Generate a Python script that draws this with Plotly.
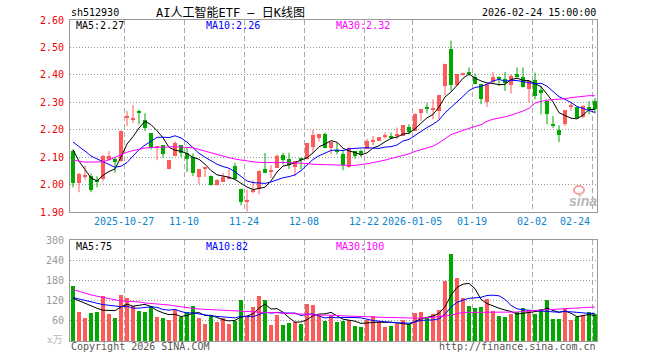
import pandas as pd
import plotly.graph_objects as go

W, H = 660, 360

# ---------------- data ----------------
opens = [2.122, 2.004, 2.030, 2.033, 2.015, 2.022, 2.089, 2.095, 2.085, 2.245,
         2.238, 2.266, 2.234, 2.187, 2.135, 2.143, 2.055, 2.104, 2.143, 2.116,
         2.101, 2.028, 2.055, 2.030, 2.000, 2.009, 2.021, 2.067, 1.985, 1.941,
         1.973, 1.985, 2.057, 2.048, 2.061, 2.107, 2.095, 2.063, 2.095, 2.094,
         2.138, 2.170, 2.183, 2.132, 2.124, 2.113, 2.063, 2.122, 2.124, 2.130,
         2.158, 2.159, 2.176, 2.174, 2.179, 2.177, 2.211, 2.195, 2.260, 2.281,
         2.276, 2.268, 2.360, 2.494, 2.363, 2.404, 2.406, 2.394, 2.366, 2.300,
         2.374, 2.394, 2.384, 2.363, 2.402, 2.393, 2.348, 2.380, 2.344, 2.305,
         2.217, 2.199, 2.220, 2.286, 2.283, 2.248, 2.281, 2.305]
highs = [2.126, 2.043, 2.070, 2.040, 2.030, 2.108, 2.122, 2.097, 2.197, 2.268,
         2.290, 2.274, 2.260, 2.187, 2.140, 2.143, 2.089, 2.158, 2.143, 2.134,
         2.113, 2.055, 2.063, 2.033, 2.019, 2.043, 2.055, 2.079, 1.985, 1.982,
         2.016, 2.052, 2.115, 2.070, 2.110, 2.116, 2.116, 2.085, 2.095, 2.152,
         2.200, 2.184, 2.189, 2.155, 2.152, 2.122, 2.138, 2.122, 2.128, 2.167,
         2.177, 2.174, 2.190, 2.190, 2.208, 2.216, 2.220, 2.260, 2.274, 2.297,
         2.311, 2.326, 2.441, 2.525, 2.402, 2.408, 2.427, 2.405, 2.366, 2.366,
         2.411, 2.394, 2.411, 2.402, 2.427, 2.427, 2.378, 2.408, 2.360, 2.305,
         2.250, 2.216, 2.271, 2.299, 2.283, 2.289, 2.304, 2.316]
lows = [1.990, 1.972, 2.018, 1.972, 1.990, 2.012, 2.089, 2.043, 2.083, 2.213,
        2.225, 2.220, 2.195, 2.128, 2.089, 2.098, 2.055, 2.104, 2.101, 2.046,
        2.031, 2.002, 2.028, 1.996, 1.996, 2.009, 2.021, 2.018, 1.924, 1.902,
        1.968, 1.965, 2.043, 2.024, 2.061, 2.073, 2.057, 2.030, 2.055, 2.091,
        2.116, 2.157, 2.132, 2.110, 2.110, 2.052, 2.061, 2.094, 2.101, 2.130,
        2.143, 2.159, 2.168, 2.165, 2.166, 2.177, 2.183, 2.195, 2.232, 2.260,
        2.238, 2.238, 2.326, 2.342, 2.359, 2.397, 2.397, 2.366, 2.293, 2.283,
        2.366, 2.360, 2.341, 2.332, 2.390, 2.354, 2.299, 2.311, 2.256, 2.220,
        2.207, 2.155, 2.214, 2.268, 2.241, 2.241, 2.256, 2.260]
closes = [2.004, 2.037, 2.035, 1.979, 2.012, 2.106, 2.106, 2.083, 2.195, 2.248,
          2.241, 2.264, 2.205, 2.134, 2.138, 2.113, 2.089, 2.152, 2.116, 2.095,
          2.043, 2.055, 2.063, 2.000, 2.016, 2.028, 2.028, 2.021, 1.935, 1.943,
          1.982, 2.048, 2.043, 2.050, 2.106, 2.091, 2.070, 2.085, 2.091, 2.152,
          2.179, 2.183, 2.132, 2.155, 2.122, 2.070, 2.134, 2.104, 2.110, 2.159,
          2.160, 2.174, 2.177, 2.173, 2.181, 2.216, 2.191, 2.256, 2.274, 2.280,
          2.277, 2.326, 2.441, 2.363, 2.402, 2.405, 2.405, 2.366, 2.311, 2.366,
          2.394, 2.384, 2.372, 2.396, 2.393, 2.356, 2.378, 2.323, 2.335, 2.256,
          2.216, 2.180, 2.271, 2.287, 2.244, 2.285, 2.280, 2.275]
volumes = [163, 86, 68, 83, 86, 134, 80, 68, 137, 128,
           104, 89, 86, 104, 71, 68, 62, 92, 71, 86,
           104, 68, 50, 74, 56, 68, 50, 59, 122, 71,
           101, 134, 122, 47, 77, 47, 53, 56, 50, 110,
           107, 77, 59, 73, 56, 59, 62, 44, 41, 62,
           74, 59, 41, 44, 50, 62, 50, 83, 86, 71,
           80, 92, 179, 257, 188, 128, 104, 98, 101, 125,
           89, 74, 71, 80, 86, 98, 92, 80, 95, 122,
           65, 65, 98, 62, 71, 77, 86, 80]
ma30 = [2.089, 2.085, 2.082, 2.082, 2.082, 2.083, 2.090, 2.100, 2.110, 2.118,
        2.124, 2.129, 2.133, 2.135, 2.136, 2.137, 2.137, 2.138, 2.137, 2.136,
        2.134, 2.128, 2.122, 2.116, 2.108, 2.103, 2.098, 2.093, 2.089, 2.086,
        2.083, 2.081, 2.080, 2.080, 2.080, 2.081, 2.080, 2.079, 2.079, 2.077,
        2.074, 2.073, 2.072, 2.072, 2.071, 2.071, 2.070, 2.070, 2.072, 2.076,
        2.080, 2.084, 2.089, 2.095, 2.100, 2.105, 2.112, 2.121, 2.127, 2.133,
        2.140, 2.152, 2.168, 2.182, 2.190, 2.198, 2.205, 2.212, 2.218, 2.231,
        2.238, 2.242, 2.247, 2.253, 2.260, 2.268, 2.278, 2.297, 2.303, 2.308,
        2.310, 2.311, 2.313, 2.317, 2.320, 2.323, 2.324, 2.324]
vma30 = [153, 147, 142, 137, 133, 129, 125, 121, 119, 118,
         118, 116, 113, 112, 111, 109, 107, 104, 101, 99,
         97, 95, 94, 93, 92, 90, 89, 88, 87, 87,
         86, 86, 85, 84, 84, 83, 82, 80, 78, 78,
         77, 77, 77, 77, 76, 75, 74, 73, 72, 72,
         71, 71, 70, 70, 69, 69, 68, 68, 68, 69,
         70, 72, 74, 77, 82, 85, 85, 85, 85, 85,
         85, 85, 85, 85, 86, 88, 90, 91, 92, 93,
         94, 95, 96, 97, 98, 99, 100, 101]
# moving-average values before enough in-window days exist
ma5_head = [2.128, 2.085, 2.055, 2.024]
ma10_head = [2.155, 2.140, 2.122, 2.104, 2.094, 2.084, 2.073, 2.063, 2.067]
vma5_head = [127, 119, 111, 104]
vma10_head = [129, 125, 121, 115, 111, 108, 106, 103, 102]

# legend values shown in the reference
ma_labels = ["MA5:2.27", "MA10:2.26", "MA30:2.32"]
vma_labels = ["MA5:75", "MA10:82", "MA30:100"]

tick_idx = [9, 19, 29, 39, 49, 57, 67, 77, 87]
tick_labels = ["2025-10-27", "11-10", "11-24", "12-08", "12-22",
               "2026-01-05", "01-19", "02-02", "02-24"]
price_ticks = [1.90, 2.00, 2.10, 2.20, 2.30, 2.40, 2.50, 2.60]
vol_ticks = [60, 120, 180, 240, 300]

code = "sh512930"
title = "AI人工智能ETF — 日K线图"
stamp = "2026-02-24 15:00:00"

# ---------------- derived ----------------
n = len(closes)
idx = list(range(n))


def moving(vals, k, head):
    s = pd.Series(vals, dtype=float).rolling(k).mean().tolist()
    s[:len(head)] = head
    return s


ma5 = moving(closes, 5, ma5_head)
ma10 = moving(closes, 10, ma10_head)
vma5 = moving(volumes, 5, vma5_head)
vma10 = moving(volumes, 10, vma10_head)

RED = "#ff5a5a"
GREEN = "#00a800"
up = [c >= o for o, c in zip(opens, closes)]
cols = [RED if u else GREEN for u in up]

MONO = "DejaVu Sans Mono, Liberation Mono, monospace"
FS = 10


def px(x):
    return x / W


def py(y):
    return 1 - y / H


fig = go.Figure()

# wicks
for flag, col in [(True, RED), (False, GREEN)]:
    xs, ys = [], []
    for i in idx:
        if up[i] == flag:
            xs += [i, i, None]
            ys += [lows[i], highs[i], None]
    fig.add_trace(go.Scatter(x=xs, y=ys, mode="lines", line=dict(color=col, width=1),
                             xaxis="x", yaxis="y", hoverinfo="skip"))

# bodies
mind = 0.004
bases, hts = [], []
for o, c in zip(opens, closes):
    h = abs(c - o)
    if h < mind:
        bases.append((o + c) / 2 - mind / 2)
        hts.append(mind)
    else:
        bases.append(min(o, c))
        hts.append(h)
fig.add_trace(go.Bar(x=idx, y=hts, base=bases, width=0.8,
                     marker=dict(color=cols, line=dict(width=0)),
                     xaxis="x", yaxis="y", hoverinfo="skip"))

# price MAs
for vals, col in [(ma5, "#000000"), (ma10, "#0000ff"), (ma30, "#ff00ff")]:
    fig.add_trace(go.Scatter(x=idx, y=vals, mode="lines", line=dict(color=col, width=1),
                             xaxis="x", yaxis="y", hoverinfo="skip"))

# volume
fig.add_trace(go.Bar(x=idx, y=volumes, width=0.8,
                     marker=dict(color=cols, line=dict(width=0)),
                     xaxis="x2", yaxis="y2", hoverinfo="skip"))
for vals, col in [(vma5, "#000000"), (vma10, "#0000ff"), (vma30, "#ff00ff")]:
    fig.add_trace(go.Scatter(x=idx, y=vals, mode="lines", line=dict(color=col, width=1),
                             xaxis="x2", yaxis="y2", hoverinfo="skip"))

xr = [-0.5, -0.5 + 527 / 6]
grid_x = [t - 0.45 for t in tick_idx]
common_x = dict(range=xr, tickvals=grid_x, showticklabels=False, showgrid=True,
                gridcolor="#aaaaaa", griddash="5px,3px", gridwidth=1, zeroline=False,
                showline=True, mirror=True, linecolor="#999999", linewidth=1,
                ticks="", fixedrange=True, automargin=False)
common_y = dict(showgrid=True, gridcolor="#999999", griddash="1px,2px", zeroline=False,
                showline=True, mirror=True, linecolor="#999999", ticks="outside",
                ticklen=3, tickcolor="white", automargin=False, fixedrange=True)
fig.update_layout(
    width=W, height=H,
    margin=dict(l=0, r=0, t=0, b=0, pad=0, autoexpand=False),
    paper_bgcolor="white", plot_bgcolor="white", showlegend=False,
    bargap=0, barmode="overlay",
    xaxis=dict(domain=[px(70), px(597)], anchor="y", **common_x),
    xaxis2=dict(domain=[px(70), px(597)], anchor="y2", **common_x),
    yaxis=dict(domain=[py(212), py(20)], range=[1.9, 2.6], anchor="x",
               tickvals=price_ticks, ticktext=["%.2f" % v for v in price_ticks],
               tickfont=dict(family=MONO, size=FS, color="#ee0000"), **common_y),
    yaxis2=dict(domain=[py(341), py(240)], range=[0, 300], anchor="x2",
                tickvals=vol_ticks, ticktext=[str(v) for v in vol_ticks],
                tickfont=dict(family=MONO, size=FS, color="#999999"), **common_y),
)

ann = []


def text(x, y, s, color="#000000", xanchor="left", size=FS, family=MONO):
    ann.append(dict(x=px(x), y=py(y), xref="paper", yref="paper", text=s,
                    showarrow=False, xanchor=xanchor, yanchor="middle",
                    font=dict(family=family, size=size, color=color)))


text(69, 13, code)
text(231, 13, title, xanchor="center", size=12,
     family="DejaVu Sans Mono, Noto Sans CJK SC")
text(598, 13, stamp, xanchor="right")
for lab, x0, col in zip(ma_labels, [74, 204, 334], ["#000000", "#0000ff", "#ff00ff"]):
    text(x0, 26, lab, color=col)
for lab, x0, col in zip(vma_labels, [74, 204, 334], ["#000000", "#0000ff", "#ff00ff"]):
    text(x0, 246, lab, color=col)
text(65, 339, "x万", color="#bbbbbb", xanchor="right", size=10,
     family="DejaVu Serif, Noto Sans CJK SC")
text(69, 346, "Copyright 2026 SINA.COM", color="#555555")
text(598, 346, "http://finance.sina.com.cn", color="#555555", xanchor="right")

# date labels under the price panel
for t, lab in zip(tick_idx, tick_labels):
    xp = 73 + 6 * (t - 0.45)
    if t == tick_idx[-1]:
        text(592, 221, lab, color="#0a84d0", xanchor="right")
    else:
        text(xp, 221, lab, color="#0a84d0", xanchor="center")

# sina watermark
text(583, 201, "<b><i>sina</i></b>", color="#b8b8b8", xanchor="center", size=14,
     family="Liberation Sans, Arial")
fig.add_shape(type="circle", xref="paper", yref="paper",
              x0=px(574), x1=px(584), y0=py(194), y1=py(186),
              line=dict(color="#f4a0a0", width=2), fillcolor="rgba(0,0,0,0)")

fig.update_layout(annotations=ann)
fig.write_html("out.html", config={"displayModeBar": False},
               post_script="document.body.style.margin='0';document.body.style.padding='0';")
